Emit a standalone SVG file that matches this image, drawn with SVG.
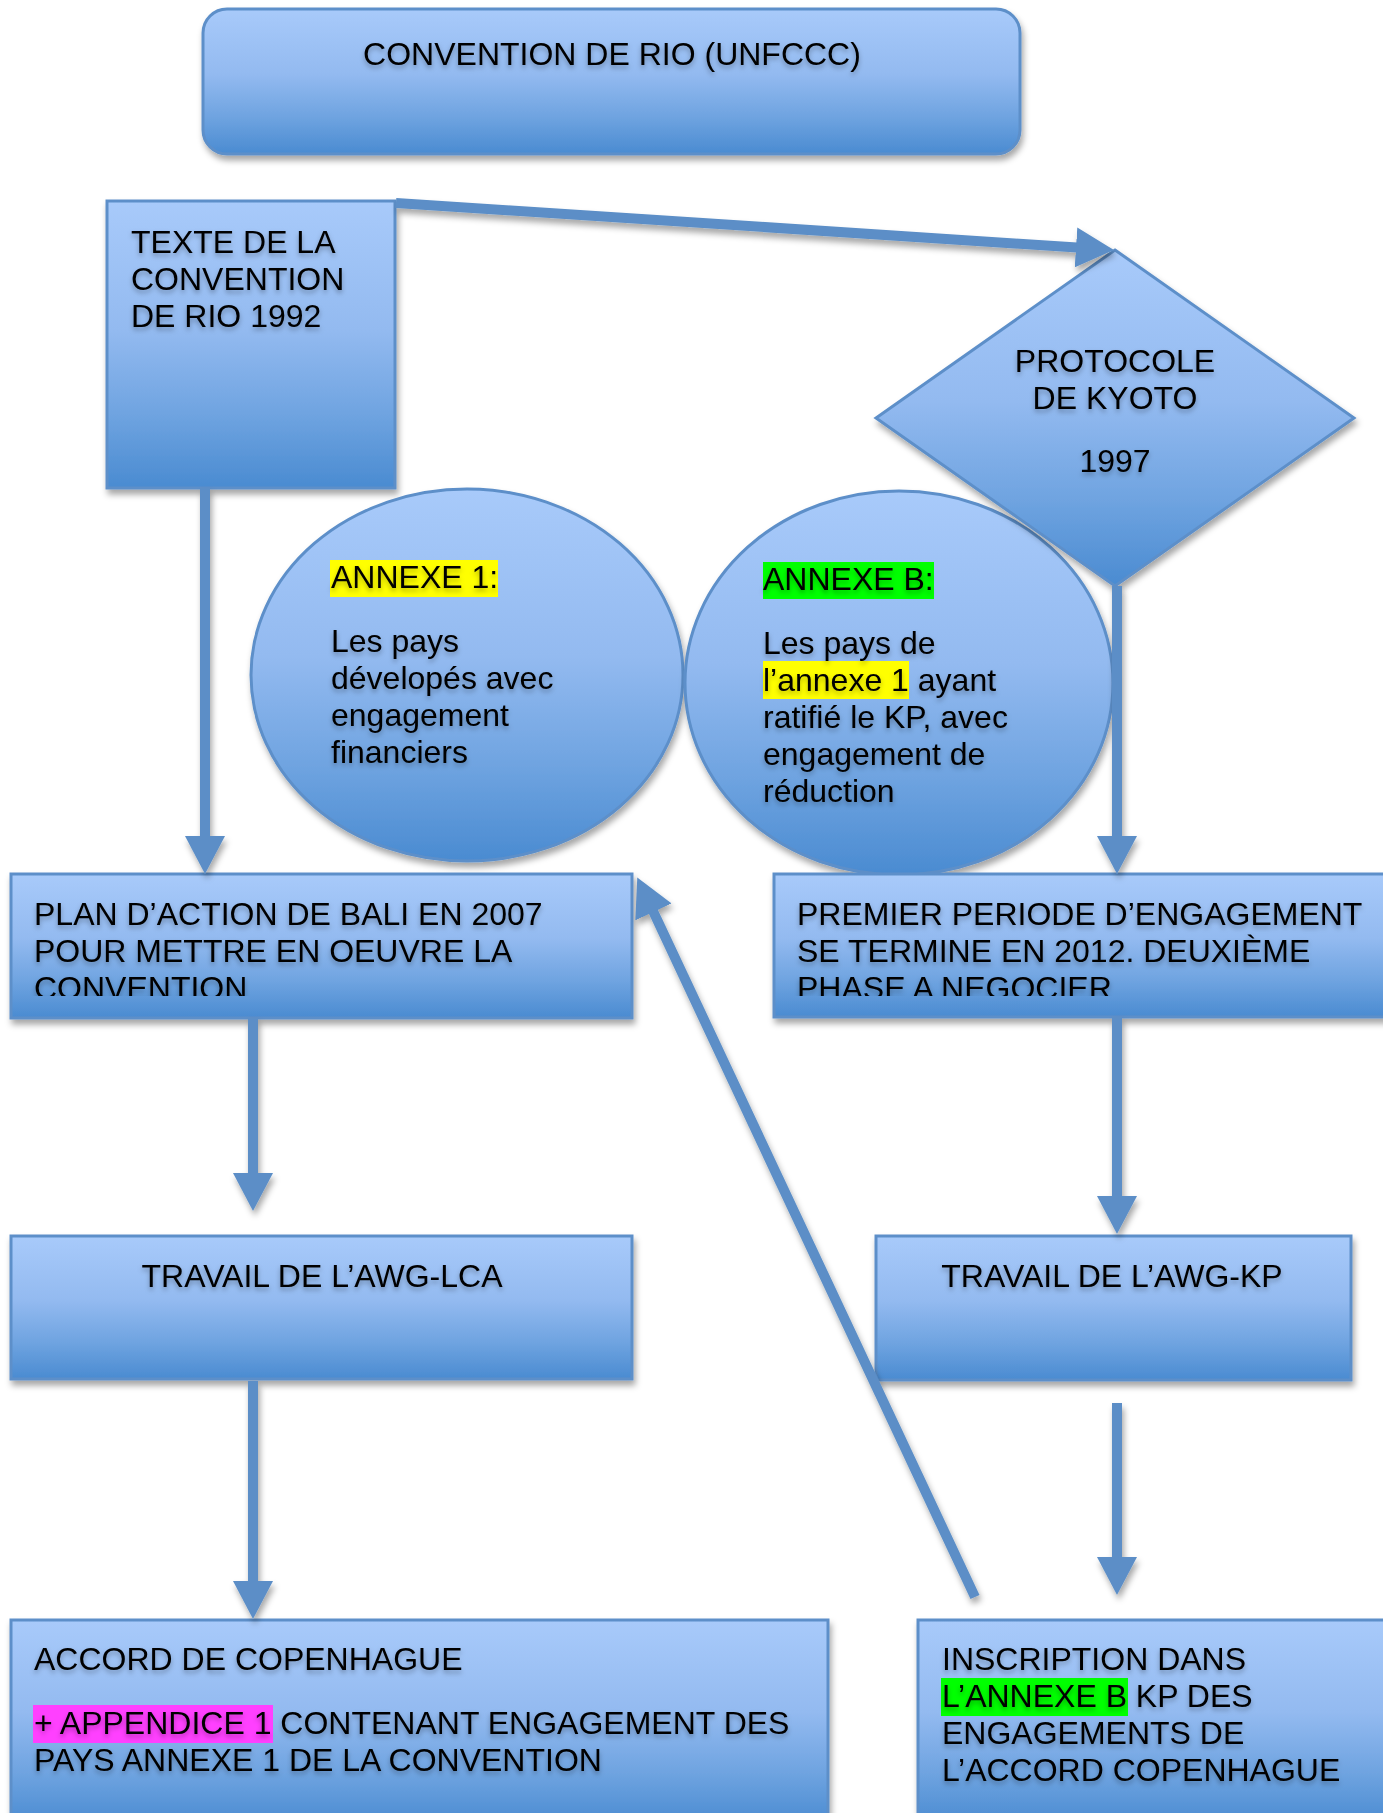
<svg xmlns="http://www.w3.org/2000/svg" width="1383" height="1813" viewBox="0 0 1383 1813">
<style>
.shape { fill: url(#g); stroke: #5d8fc9; stroke-width: 3; filter: url(#sh); }
.txt { font-family: "Liberation Sans", Arial, sans-serif; font-size: 32px; fill: #000; }
.tg { filter: url(#tsh); }
.con { stroke: #5b8ec7; stroke-width: 10; fill: none; marker-end: url(#ah); }
</style>
<defs>
<linearGradient id="g" x1="0" y1="0" x2="0" y2="1">
<stop offset="0" stop-color="#a8cafa"/>
<stop offset="0.45" stop-color="#93baf0"/>
<stop offset="0.75" stop-color="#6ea3e0"/>
<stop offset="1" stop-color="#4a8bd1"/>
</linearGradient>
<filter id="sh" filterUnits="userSpaceOnUse" x="0" y="0" width="1383" height="1813">
<feDropShadow dx="2" dy="5" stdDeviation="3" flood-color="#000" flood-opacity="0.35"/>
</filter>
<filter id="tsh" filterUnits="userSpaceOnUse" x="0" y="0" width="1383" height="1813">
<feDropShadow dx="0" dy="3" stdDeviation="2.5" flood-color="#000" flood-opacity="0.3"/>
</filter>
<marker id="ah" markerUnits="userSpaceOnUse" markerWidth="38" markerHeight="40" viewBox="0 0 38 40" refX="1" refY="20" orient="auto">
<path d="M0,0 L38,20 L0,40 z" fill="#5b8ec7"/>
</marker>
<clipPath id="clipPlan"><rect x="0" y="874" width="1383" height="122"/></clipPath>
</defs>
<rect width="1383" height="1813" fill="#fff"/>

<g id="n-convention">
<rect class="shape" x="203" y="9" width="817" height="145" rx="24" ry="24"/>
<g class="tg"><text class="txt" x="612" y="65" text-anchor="middle">CONVENTION DE RIO (UNFCCC)</text></g>
</g>

<g id="n-texte">
<rect class="shape" x="107" y="201" width="288" height="287"/>
<g class="tg">
<text class="txt" x="131" y="253">TEXTE DE LA</text>
<text class="txt" x="131" y="290">CONVENTION</text>
<text class="txt" x="131" y="327">DE RIO 1992</text>
</g>
</g>

<g id="n-annexe1">
<ellipse class="shape" cx="467" cy="675" rx="216" ry="186"/>
<rect x="330" y="560" width="168" height="37" fill="#ffff00"/>
<g class="tg">
<text class="txt" x="331" y="588">ANNEXE 1:</text>
<text class="txt" x="331" y="652">Les pays</text>
<text class="txt" x="331" y="689">dévelopés avec</text>
<text class="txt" x="331" y="726">engagement</text>
<text class="txt" x="331" y="763">financiers</text>
</g>
</g>

<g id="n-annexeB">
<ellipse class="shape" cx="899" cy="683" rx="214" ry="192"/>
<rect x="763" y="562" width="171" height="37" fill="#00ff00"/>
<rect x="763" y="661" width="146" height="38" fill="#ffff00"/>
<g class="tg">
<text class="txt" x="763" y="590">ANNEXE B:</text>
<text class="txt" x="763" y="654">Les pays de</text>
<text class="txt" x="763" y="691">l’annexe 1 ayant</text>
<text class="txt" x="763" y="728">ratifié le KP, avec</text>
<text class="txt" x="763" y="765">engagement de</text>
<text class="txt" x="763" y="802">réduction</text>
</g>
</g>

<g id="n-kyoto">
<polygon class="shape" points="1115,250 1354,418 1115,586 876,418"/>
<g class="tg">
<text class="txt" x="1115" y="372" text-anchor="middle">PROTOCOLE</text>
<text class="txt" x="1115" y="409" text-anchor="middle">DE KYOTO</text>
<text class="txt" x="1115" y="472" text-anchor="middle">1997</text>
</g>
</g>

<g id="n-bali">
<rect class="shape" x="11" y="874" width="621" height="144"/>
<g class="tg" clip-path="url(#clipPlan)">
<text class="txt" x="34" y="925">PLAN D’ACTION DE BALI EN 2007</text>
<text class="txt" x="34" y="962">POUR METTRE EN OEUVRE LA</text>
<text class="txt" x="34" y="999">CONVENTION</text>
</g>
</g>

<g id="n-premier">
<rect class="shape" x="774" y="874" width="630" height="143"/>
<g class="tg" clip-path="url(#clipPlan)">
<text class="txt" x="797" y="925">PREMIER PERIODE D’ENGAGEMENT</text>
<text class="txt" x="797" y="962">SE TERMINE EN 2012. DEUXIÈME</text>
<text class="txt" x="797" y="999">PHASE A NEGOCIER</text>
</g>
</g>

<g id="n-lca">
<rect class="shape" x="11" y="1236" width="621" height="143"/>
<g class="tg"><text class="txt" x="322" y="1287" text-anchor="middle">TRAVAIL DE L’AWG-LCA</text></g>
</g>

<g id="n-kp">
<rect class="shape" x="876" y="1236" width="475" height="144"/>
<g class="tg"><text class="txt" x="1112" y="1287" text-anchor="middle">TRAVAIL DE L’AWG-KP</text></g>
</g>

<g id="n-accord">
<rect class="shape" x="11" y="1620" width="817" height="205"/>
<rect x="33" y="1705" width="240" height="38" fill="#ff40ff"/>
<g class="tg">
<text class="txt" x="34" y="1670">ACCORD DE COPENHAGUE</text>
<text class="txt" x="34" y="1734">+ APPENDICE 1 CONTENANT ENGAGEMENT DES</text>
<text class="txt" x="34" y="1771">PAYS ANNEXE 1 DE LA CONVENTION</text>
</g>
</g>

<g id="n-inscription">
<rect class="shape" x="918" y="1620" width="490" height="205"/>
<rect x="941" y="1678" width="187" height="38" fill="#00ff00"/>
<g class="tg">
<text class="txt" x="942" y="1670">INSCRIPTION DANS</text>
<text class="txt" x="942" y="1707">L’ANNEXE B KP DES</text>
<text class="txt" x="942" y="1744">ENGAGEMENTS DE</text>
<text class="txt" x="942" y="1781">L’ACCORD COPENHAGUE</text>
</g>
</g>

<g id="connectors" filter="url(#sh)">
<line class="con" x1="396" y1="203" x2="1077" y2="247.5"/>
<line class="con" x1="205" y1="488" x2="205" y2="837"/>
<line class="con" x1="1117" y1="586" x2="1117" y2="837"/>
<line class="con" x1="253" y1="1018" x2="253" y2="1174"/>
<line class="con" x1="1117" y1="1017" x2="1117" y2="1197"/>
<line class="con" x1="253" y1="1381" x2="253" y2="1582"/>
<line class="con" x1="1117" y1="1403" x2="1117" y2="1558"/>
<line class="con" x1="975" y1="1597" x2="653" y2="911" stroke-width="9"/>
</g>
</svg>
